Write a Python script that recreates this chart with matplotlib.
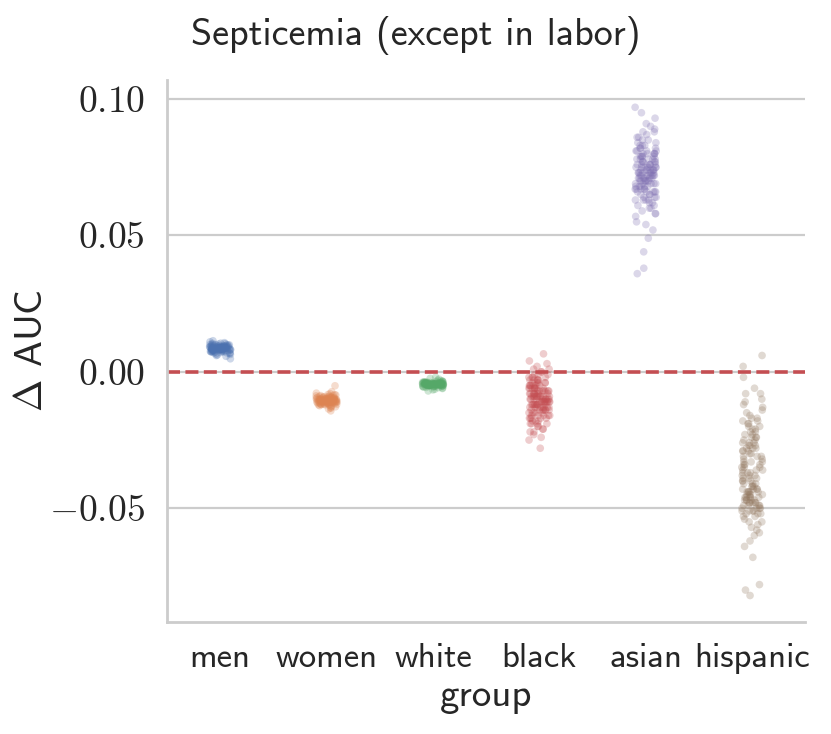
import numpy as np
import pandas as pd
import matplotlib
matplotlib.use("Agg")
import matplotlib.pyplot as plt
import seaborn as sns

# bootstrap deltas of AUC per group
groups = ["men", "women", "white", "black", "asian", "hispanic"]

men = [0.0085, 0.0091, 0.0079, 0.0088, 0.0102, 0.0073, 0.0084, 0.0096, 0.0069, 0.0087,
       0.0093, 0.0081, 0.0076, 0.0099, 0.0089, 0.0083, 0.0110, 0.0078, 0.0086, 0.0092,
       0.0064, 0.0090, 0.0082, 0.0097, 0.0075, 0.0088, 0.0104, 0.0080, 0.0071, 0.0094,
       0.0086, 0.0057, 0.0089, 0.0083, 0.0100, 0.0077, 0.0091, 0.0085, 0.0068, 0.0095,
       0.0087, 0.0081, 0.0107, 0.0074, 0.0090, 0.0084, 0.0098, 0.0079, 0.0086, 0.0062,
       0.0093, 0.0088, 0.0082, 0.0101, 0.0076, 0.0089, 0.0085, 0.0072, 0.0096, 0.0080,
       0.0114, 0.0087, 0.0083, 0.0091, 0.0070, 0.0094, 0.0086, 0.0078, 0.0099, 0.0084,
       0.0048, 0.0090, 0.0081, 0.0088, 0.0103, 0.0075, 0.0092, 0.0085, 0.0066, 0.0097,
       0.0089, 0.0080, 0.0094, 0.0077, 0.0087, 0.0083, 0.0105, 0.0073, 0.0091, 0.0086,
       0.0060, 0.0095, 0.0082, 0.0088, 0.0100, 0.0079, 0.0084, 0.0090, 0.0069, 0.0092]

women = [-0.0105, -0.0098, -0.0112, -0.0101, -0.0120, -0.0091, -0.0108, -0.0115, -0.0087, -0.0103,
         -0.0110, -0.0096, -0.0125, -0.0106, -0.0099, -0.0117, -0.0084, -0.0109, -0.0102, -0.0131,
         -0.0094, -0.0107, -0.0113, -0.0089, -0.0104, -0.0119, -0.0097, -0.0111, -0.0080, -0.0106,
         -0.0122, -0.0100, -0.0108, -0.0093, -0.0114, -0.0136, -0.0102, -0.0095, -0.0110, -0.0105,
         -0.0051, -0.0118, -0.0099, -0.0107, -0.0086, -0.0112, -0.0103, -0.0128, -0.0092, -0.0109,
         -0.0101, -0.0116, -0.0090, -0.0106, -0.0121, -0.0098, -0.0111, -0.0083, -0.0104, -0.0114,
         -0.0143, -0.0100, -0.0108, -0.0095, -0.0119, -0.0103, -0.0088, -0.0112, -0.0106, -0.0124,
         -0.0097, -0.0110, -0.0101, -0.0078, -0.0115, -0.0105, -0.0093, -0.0109, -0.0133, -0.0102,
         -0.0113, -0.0096, -0.0107, -0.0118, -0.0085, -0.0104, -0.0111, -0.0099, -0.0126, -0.0106,
         -0.0091, -0.0117, -0.0102, -0.0108, -0.0073, -0.0114, -0.0100, -0.0110, -0.0094, -0.0121]

white = [-0.0045, -0.0041, -0.0049, -0.0043, -0.0052, -0.0038, -0.0047, -0.0044, -0.0055, -0.0040,
         -0.0046, -0.0050, -0.0036, -0.0048, -0.0042, -0.0058, -0.0045, -0.0039, -0.0051, -0.0044,
         -0.0020, -0.0047, -0.0053, -0.0041, -0.0046, -0.0034, -0.0049, -0.0043, -0.0061, -0.0045,
         -0.0040, -0.0048, -0.0044, -0.0054, -0.0037, -0.0046, -0.0050, -0.0042, -0.0070, -0.0047,
         -0.0043, -0.0039, -0.0052, -0.0045, -0.0031, -0.0048, -0.0044, -0.0057, -0.0041, -0.0046,
         -0.0049, -0.0035, -0.0045, -0.0043, -0.0053, -0.0040, -0.0047, -0.0064, -0.0044, -0.0050,
         -0.0042, -0.0046, -0.0038, -0.0051, -0.0045, -0.0027, -0.0048, -0.0043, -0.0056, -0.0041,
         -0.0047, -0.0044, -0.0050, -0.0036, -0.0046, -0.0059, -0.0042, -0.0049, -0.0045, -0.0033,
         -0.0048, -0.0040, -0.0053, -0.0044, -0.0047, -0.0039, -0.0051, -0.0043, -0.0066, -0.0046,
         -0.0024, -0.0045, -0.0049, -0.0041, -0.0054, -0.0044, -0.0037, -0.0048, -0.0042, -0.0050]

black = [-0.010, -0.004, -0.015, -0.008, -0.012, 0.001, -0.019, -0.006, -0.011, -0.002,
         -0.014, -0.009, -0.017, -0.005, -0.010, -0.022, -0.007, -0.013, 0.003, -0.011,
         -0.008, -0.016, -0.003, -0.012, -0.009, -0.020, -0.006, -0.014, -0.001, -0.010,
         -0.018, -0.007, -0.013, 0.0066, -0.011, -0.004, -0.015, -0.009, -0.024, -0.006,
         -0.012, -0.002, -0.016, -0.008, -0.010, -0.019, -0.005, -0.013, 0.000, -0.011,
         -0.007, -0.017, -0.003, -0.014, -0.009, -0.021, -0.006, -0.012, 0.002, -0.010,
         -0.015, -0.008, -0.028, -0.004, -0.011, -0.018, -0.007, -0.013, -0.001, -0.009,
         -0.016, -0.005, -0.012, -0.010, -0.023, -0.006, -0.014, 0.001, -0.008, -0.011,
         -0.019, -0.003, -0.013, -0.009, -0.017, -0.007, -0.010, -0.002, -0.015, -0.012,
         -0.005, -0.020, -0.008, -0.011, 0.004, -0.014, -0.006, -0.009, -0.025, -0.012,
         -0.004, -0.016, -0.010, -0.007, -0.013, -0.001, -0.018, -0.009, -0.011, -0.005,
         -0.015, -0.008, -0.022, -0.003, -0.012, -0.010, -0.017, -0.006, -0.014, 0.000,
         -0.009, -0.011, -0.019, -0.004, -0.013, -0.007, -0.016, -0.010, -0.002, -0.012,
         -0.008, -0.021, -0.005, -0.014, -0.011, -0.009, -0.017, -0.006, -0.013, -0.003]

asian = [0.073, 0.078, 0.066, 0.081, 0.070, 0.085, 0.062, 0.075, 0.069, 0.088,
         0.072, 0.064, 0.079, 0.076, 0.058, 0.083, 0.071, 0.067, 0.090, 0.074,
         0.065, 0.080, 0.077, 0.060, 0.072, 0.086, 0.068, 0.075, 0.052, 0.082,
         0.070, 0.078, 0.063, 0.074, 0.093, 0.069, 0.076, 0.066, 0.081, 0.071,
         0.055, 0.079, 0.073, 0.064, 0.084, 0.070, 0.077, 0.061, 0.075, 0.087,
         0.068, 0.072, 0.080, 0.044, 0.074, 0.067, 0.083, 0.071, 0.078, 0.063,
         0.076, 0.069, 0.091, 0.073, 0.059, 0.080, 0.066, 0.075, 0.082, 0.070,
         0.036, 0.077, 0.072, 0.065, 0.085, 0.074, 0.068, 0.079, 0.062, 0.073,
         0.081, 0.070, 0.057, 0.076, 0.067, 0.088, 0.072, 0.064, 0.078, 0.075,
         0.069, 0.083, 0.049, 0.074, 0.071, 0.066, 0.080, 0.073, 0.060, 0.077,
         0.097, 0.070, 0.075, 0.068, 0.082, 0.063, 0.076, 0.072, 0.054, 0.079,
         0.071, 0.086, 0.067, 0.074, 0.065, 0.081, 0.073, 0.038, 0.078, 0.069,
         0.075, 0.061, 0.084, 0.072, 0.070, 0.089, 0.066, 0.077, 0.074, 0.058,
         0.080, 0.068, 0.073, 0.063, 0.076, 0.095, 0.071, 0.079, 0.067, 0.072]

hispanic = [-0.034, -0.021, -0.046, -0.029, -0.050, -0.015, -0.038, -0.043, -0.026, -0.052,
            -0.031, -0.008, -0.041, -0.048, -0.019, -0.036, -0.055, -0.024, -0.045, -0.033,
            -0.011, -0.049, -0.028, -0.040, -0.060, -0.017, -0.037, -0.047, -0.023, -0.051,
            -0.030, -0.044, 0.006, -0.035, -0.053, -0.020, -0.042, -0.027, -0.048, -0.013,
            -0.039, -0.058, -0.025, -0.046, -0.032, -0.050, -0.018, -0.036, -0.044, -0.064,
            -0.029, -0.047, -0.022, -0.041, -0.052, -0.010, -0.034, -0.049, -0.026, -0.043,
            -0.078, -0.031, -0.045, -0.016, -0.038, -0.054, -0.024, -0.048, -0.035, -0.002,
            -0.042, -0.051, -0.028, -0.046, -0.020, -0.040, -0.057, -0.033, -0.047, -0.014,
            -0.037, -0.050, -0.025, -0.044, -0.062, -0.030, -0.048, -0.019, -0.039, -0.053,
            -0.027, -0.045, -0.006, -0.036, -0.049, -0.022, -0.043, -0.068, -0.032, -0.046,
            -0.082, -0.029, -0.051, -0.017, -0.041, -0.047, -0.024, -0.038, -0.055, -0.012,
            -0.034, -0.050, -0.028, -0.044, -0.021, -0.048, -0.080, -0.035, -0.042, -0.059,
            -0.026, -0.046, 0.002, -0.039, -0.052, -0.031, -0.045, -0.018, -0.037, -0.049,
            -0.023, -0.043, -0.056, -0.033, -0.047, -0.008, -0.040, -0.051, -0.027, -0.044]

yticks = [-0.05, 0.00, 0.05, 0.10]

sns.set_theme(style="whitegrid")
plt.rcParams["font.family"] = ["cmss10", "DejaVu Sans"]
plt.rcParams["mathtext.fontset"] = "cm"
plt.rcParams["axes.unicode_minus"] = False

values = [men, women, white, black, asian, hispanic]
df = pd.DataFrame({
    "group": [g for g, v in zip(groups, values) for _ in v],
    "delta": [x for v in values for x in v],
})

fig = plt.figure(figsize=(8.31, 7.34), dpi=100)
ax = fig.add_axes([0.201, 0.153, 0.768, 0.738])

np.random.seed(0)
sns.stripplot(data=df, x="group", y="delta", hue="group", palette="deep",
              order=groups, alpha=0.28, size=5.5, linewidth=0, legend=False, ax=ax)

ax.axhline(0, color="#C44E52", linestyle="--", linewidth=2.6, dashes=(3.6, 1.5))

ax.set_ylim(-0.0916, 0.107)
ax.set_yticks(yticks)
ax.set_yticklabels([r"$%.2f$" % t if t >= 0 else r"$-%.2f$" % abs(t) for t in yticks])
ax.tick_params(axis="y", labelsize=27, pad=10)
ax.tick_params(axis="x", labelsize=25, pad=9)
ax.grid(axis="x", visible=False)
ax.grid(axis="y", color="#cccccc", linewidth=1.6)

for side in ["left", "bottom"]:
    ax.spines[side].set_color("#cccccc")
    ax.spines[side].set_linewidth(2)
sns.despine(ax=ax)

ax.set_xlabel("group", fontsize=28, labelpad=4)
ax.set_ylabel(r"$\Delta$ AUC", fontsize=28)
ax.yaxis.set_label_coords(-0.183, 0.5)
fig.suptitle("Septicemia (except in labor)", fontsize=27.5, x=0.5, y=0.978)

fig.savefig("out.png", dpi=100)
